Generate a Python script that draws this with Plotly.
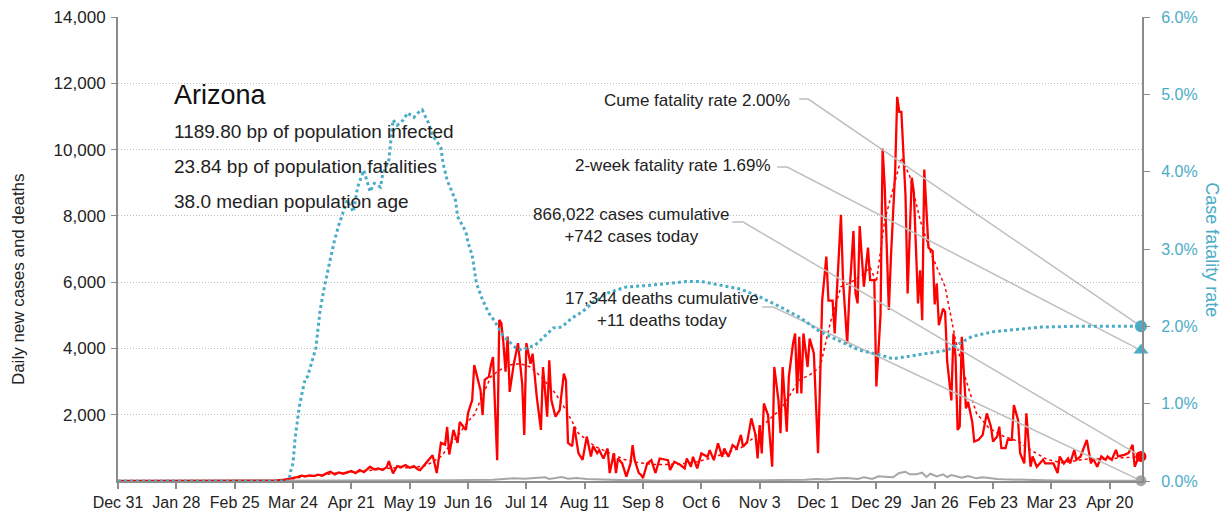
import pandas as pd
import plotly.graph_objects as go

BASE = pd.Timestamp("2019-12-31")

# Daily new cases: (day offset from 2019-12-31, value)
case_day = [0, 50, 75, 80, 84, 86, 88, 90, 92, 94, 96, 98, 100, 102, 104, 106, 108, 110, 112, 114, 116, 118, 120, 121, 123, 125, 127, 129, 130, 132, 134, 136, 138, 140, 142, 144, 145,
            148, 151, 153, 155, 157, 158, 159, 161, 163, 164, 167, 168, 170, 171, 174, 175, 176, 178, 179, 180,
            182, 183, 184, 185, 186, 187, 188, 190, 192, 193, 194, 195, 196, 198, 199, 201, 203, 204, 206, 207, 208, 210, 212, 214, 215, 216, 218, 219, 221, 223, 225, 227, 228, 230,
            231, 233, 235, 236, 238, 239, 240, 242, 244, 246, 247, 248, 250, 251, 252, 254, 256, 258, 260, 264, 265, 267, 270, 272, 273, 275, 276, 278, 280, 283, 284, 286, 288, 290, 291, 293, 295, 297, 299, 300, 302, 304, 306, 307, 308, 309, 310, 312, 314,
            315, 317, 318, 319, 321, 322, 324, 325, 326, 327, 328, 329, 331, 332, 334, 336, 337, 338, 340, 341, 343, 344, 345, 347, 348, 350, 351, 353, 354, 355, 356, 358, 360, 361, 363, 364, 366, 367, 368, 370, 371, 373, 374, 375, 376, 378, 379, 381, 382, 384, 385, 386, 387, 388, 389, 391, 392, 393, 394, 396, 397, 398, 400, 401, 402, 403, 404, 405, 407, 408, 410, 411, 413, 415, 417, 419, 420, 422, 423, 424, 426, 427, 429, 430, 432, 433, 435, 436, 438, 439, 441, 444, 445, 447, 449, 451, 452, 454, 456, 457, 459, 460, 462, 465, 467, 468, 470, 472, 474, 475, 477, 479, 480, 483, 485, 487, 488, 490, 491]
case_val = [0, 0, 10, 40, 80, 120, 160, 140, 170, 150, 190, 160, 230, 280, 200, 260, 220, 250, 300, 240, 330, 270, 360, 430, 350, 380, 330, 420, 600, 230, 450, 420, 480, 400, 450, 350, 330,
            540, 780, 240, 1150, 1100, 1630, 800, 1540, 1150, 1780, 1540, 2050, 2440, 3500, 2740, 1990, 3050, 3150, 3500, 3740,
            630, 4860, 4760, 4160, 3300, 4360, 2690, 3540, 4160, 3440, 2940, 1390, 4160, 3540, 3840, 2540, 1540, 3440, 1940, 3640, 2440, 1940, 2140, 3240, 3040, 1150, 1050, 1640, 840, 640, 1340, 740, 1050, 840,
            930, 680, 980, 240, 840, 240, 680, 530, 130, 530, 1080, 630, 240, 190, 90, 530, 630, 240, 680, 630, 330, 580, 480, 380, 680, 430, 730, 380, 830, 730, 930, 630, 1140, 730, 980, 730, 1080, 980, 1390, 1030, 1180, 1890, 1390, 680, 1690, 830, 2340, 1990, 430,
            3440, 2440, 1440, 3440, 1490, 3140, 4150, 4450, 2640, 4350, 2640, 4450, 3440, 4300, 3850, 840, 3040, 5460, 6770, 5440, 5440, 4450, 5660, 8030, 6060, 4150, 5560, 7540, 5660, 5360, 7690, 5860, 7040, 6060, 6060, 2850, 5000, 10030, 8900, 5160, 6770, 9300, 11590, 11140, 11140, 8600, 5660, 9150, 8700, 5360, 6360, 4850, 9400, 8130, 7040, 6940, 5330, 5960, 4700, 5200, 5100, 3600, 2430, 4450, 3750, 1540, 1640, 4350, 2190, 2390, 1790, 1190, 1240, 1390, 2040, 1640, 1190, 1340, 1640, 990, 990, 1240, 1240, 2290, 1840, 840, 530, 2040, 430, 740, 430, 640, 530, 530, 530, 240, 740, 530, 680, 530, 940, 640, 740, 1240, 530, 680, 430, 740, 640, 740, 640, 940, 740, 790, 840, 1090, 430, 740, 742]

# 7-day average of cases
avg_day = [0, 77, 84, 91, 98, 105, 112, 119, 126, 133, 140, 147, 150, 155, 159, 164, 168, 171, 174, 179, 183, 188, 193, 198, 203, 210, 215, 221, 229, 236, 243, 250, 257, 264, 271, 278, 285, 292, 299, 305, 310, 315, 318, 322, 327, 332, 337, 342, 347, 352, 357, 361, 364, 368, 372, 376, 380, 385, 390, 397, 402, 407, 412, 418, 425, 432, 439, 446, 453, 460, 467, 474, 481, 488, 491]
avg_val = [0, 0, 70, 150, 180, 240, 260, 300, 350, 400, 400, 450, 540, 740, 1050, 1440, 1800, 2000, 2440, 3150, 3340, 3500, 3540, 3440, 3150, 2640, 2140, 1440, 1040, 840, 650, 550, 500, 500, 520, 580, 700, 850, 1000, 1300, 1700, 2000, 2140, 2540, 3050, 3200, 3440, 4800, 5860, 6000, 6200, 6450, 6000, 7870, 8800, 9750, 9200, 7870, 6900, 5860, 4250, 3050, 2050, 1600, 1350, 1200, 900, 650, 550, 620, 680, 650, 700, 720, 750]

# Daily deaths
death_day = [0, 80, 90, 100, 110, 120, 130, 140, 150, 160, 170, 180, 185, 190, 195, 200, 205, 207, 210, 213, 216, 220, 225, 230, 235, 240, 245, 250, 255, 260, 270, 280, 290, 300, 310, 320, 330, 335, 340, 345, 350, 355, 358, 362, 365, 368, 372, 375, 378, 380, 383, 386, 388, 390, 393, 396, 398, 400, 402, 405, 408, 412, 415, 418, 422, 425, 430, 435, 440, 450, 460, 470, 480, 491]
death_val = [0, 0, 5, 15, 20, 20, 20, 15, 20, 25, 30, 40, 60, 80, 70, 90, 110, 60, 100, 120, 70, 90, 60, 50, 30, 40, 20, 30, 15, 10, 15, 10, 15, 20, 25, 30, 40, 60, 45, 80, 90, 60, 110, 60, 140, 130, 110, 240, 280, 200, 200, 250, 120, 220, 140, 200, 120, 180, 150, 100, 150, 80, 110, 80, 60, 50, 40, 30, 25, 15, 10, 10, 10, 11]

# Case fatality rate (%)
cfr_day = [0, 82, 83, 84, 85, 86, 87, 89, 90, 91, 93, 95, 97, 99, 102, 104, 106, 108, 110, 113, 115, 118, 121, 123, 126, 127, 130, 132, 134, 137, 139, 142, 144, 146, 149, 151, 155, 156, 158, 162, 163, 167, 168, 170, 172, 175, 178, 181, 184, 187, 191, 194, 197, 200, 204, 209, 213, 218, 223, 228, 235, 244, 255, 266, 273, 280, 289, 299, 308, 318, 327, 337, 347, 356, 366, 372, 379, 388, 398, 404, 410, 420, 430, 443, 459, 475, 491]
cfr_val = [0, 0, 0.14, 0.23, 0.55, 0.79, 0.96, 1.22, 1.33, 1.35, 1.52, 1.72, 2.21, 2.5, 2.88, 3.12, 3.31, 3.47, 3.63, 3.48, 3.80, 4.02, 3.74, 3.85, 3.80, 3.96, 4.15, 4.67, 4.60, 4.67, 4.76, 4.70, 4.76, 4.80, 4.63, 4.47, 4.31, 4.11, 3.89, 3.63, 3.42, 3.22, 3.08, 2.92, 2.56, 2.34, 2.17, 2.06, 1.91, 1.82, 1.72, 1.69, 1.73, 1.75, 1.85, 1.98, 1.99, 2.11, 2.19, 2.31, 2.43, 2.51, 2.53, 2.56, 2.58, 2.58, 2.53, 2.48, 2.38, 2.25, 2.12, 1.93, 1.80, 1.69, 1.63, 1.58, 1.61, 1.65, 1.69, 1.78, 1.87, 1.93, 1.96, 1.99, 2.00, 2.00, 2.00]

two_week_cfr = 1.69
cume_cfr = 2.00
state = "Arizona"
info_lines = ["1189.80 bp of population infected", "23.84 bp of population fatalities", "38.0 median population age"]
cases_text = ["866,022 cases cumulative", "+742 cases today"]
deaths_text = ["17,344 deaths cumulative", "+11 deaths today"]
left_title = "Daily new cases and deaths"
right_title = "Case fatality rate"

LEFT_MAX = 14000
RIGHT_MAX = 6.0
RED = "#FF0000"
BLUE = "#4BACC6"
GRAY = "#A6A6A6"
LEAD = "#BFBFBF"
AXIS = "#8C8C8C"
FONT = "Liberation Sans, Arial, sans-serif"


def dates(days):
    return BASE + pd.to_timedelta(days, unit="D")


last = dates([case_day[-1]])[0]
pct_to_left = LEFT_MAX / RIGHT_MAX

fig = go.Figure()

fig.add_trace(go.Scatter(x=dates(cfr_day), y=cfr_val, yaxis="y2", mode="lines",
                         line=dict(color=BLUE, width=3, dash="dot"), hoverinfo="skip"))
fig.add_trace(go.Scatter(x=dates(death_day), y=death_val, mode="lines",
                         line=dict(color=GRAY, width=2), hoverinfo="skip"))
fig.add_trace(go.Scatter(x=dates(avg_day), y=avg_val, mode="lines",
                         line=dict(color=RED, width=1.5, dash="dot"), hoverinfo="skip"))
fig.add_trace(go.Scatter(x=dates(case_day), y=case_val, mode="lines",
                         line=dict(color=RED, width=2.3), hoverinfo="skip"))

# Leader lines from labels to end markers (label anchor days, label y) -> end point
leaders = [
    ((327, 331.3, 11525), cume_cfr * pct_to_left),
    ((316.4, 321.2, 9474), two_week_cfr * pct_to_left),
    ((294.8, 300.1, 7814), case_val[-1]),
    ((309.2, 314.5, 5250), death_val[-1]),
]
for (d0, d1, yv), yend in leaders:
    fig.add_trace(go.Scatter(x=[dates([d0])[0], dates([d1])[0], last], y=[yv, yv, yend],
                             mode="lines", line=dict(color=LEAD, width=1.5), hoverinfo="skip"))

# End markers
fig.add_trace(go.Scatter(x=[last], y=[cume_cfr], yaxis="y2", mode="markers", cliponaxis=False,
                         marker=dict(color=BLUE, size=12, symbol="circle"), hoverinfo="skip"))
fig.add_trace(go.Scatter(x=[last], y=[two_week_cfr], yaxis="y2", mode="markers", cliponaxis=False,
                         marker=dict(color=BLUE, size=13, symbol="triangle-up"), hoverinfo="skip"))
fig.add_trace(go.Scatter(x=[last], y=[case_val[-1]], mode="markers", cliponaxis=False,
                         marker=dict(color=RED, size=11, symbol="circle"), hoverinfo="skip"))
fig.add_trace(go.Scatter(x=[last], y=[death_val[-1]], mode="markers", cliponaxis=False,
                         marker=dict(color=GRAY, size=11, symbol="circle"), hoverinfo="skip"))

ann = []
ann.append(dict(text=state, x=0.053, y=0.832, xref="paper", yref="paper", xanchor="left", yanchor="middle",
                showarrow=False, font=dict(size=27, color="#111")))
for i, t in enumerate(info_lines):
    ann.append(dict(text=t, x=0.053, y=0.753 - i * 0.0755, xref="paper", yref="paper", xanchor="left",
                    yanchor="middle", showarrow=False, font=dict(size=19, color="#222")))
ann.append(dict(text=f"Cume fatality rate {cume_cfr:.2f}%", x=0.658, y=0.820, xref="paper", yref="paper",
                xanchor="right", yanchor="middle", showarrow=False, font=dict(size=17, color="#222")))
ann.append(dict(text=f"2-week fatality rate {two_week_cfr:.2f}%", x=0.640, y=0.680, xref="paper", yref="paper",
                xanchor="right", yanchor="middle", showarrow=False, font=dict(size=17, color="#222")))
ann.append(dict(text="<br>".join(cases_text), x=0.501, y=0.551, xref="paper", yref="paper",
                xanchor="center", yanchor="middle", showarrow=False, align="center", font=dict(size=17, color="#222")))
ann.append(dict(text="<br>".join(deaths_text), x=0.531, y=0.370, xref="paper", yref="paper",
                xanchor="center", yanchor="middle", showarrow=False, align="center", font=dict(size=17, color="#222")))
# Axis titles
ann.append(dict(text=left_title, x=-0.0977, y=0.435, xref="paper", yref="paper", xanchor="center",
                yanchor="middle", textangle=-90, showarrow=False, font=dict(size=17, color="#222")))
ann.append(dict(text=right_title, x=1.068, y=0.498, xref="paper", yref="paper", xanchor="center",
                yanchor="middle", textangle=90, showarrow=False, font=dict(size=18, color=BLUE)))

fig.update_layout(
    width=1223, height=520,
    margin=dict(l=118, r=81, t=17, b=39, autoexpand=False),
    paper_bgcolor="white", plot_bgcolor="white",
    showlegend=False, hovermode=False,
    font=dict(family=FONT, size=17, color="#222"),
    annotations=ann,
    xaxis=dict(type="date", range=[BASE, last + pd.Timedelta(hours=12)], automargin=False,
               tick0=BASE, dtick=28 * 86400000, tickformat="%b %-d",
               showgrid=False, showline=True, linecolor=AXIS, linewidth=2,
               ticks="outside", ticklen=6, tickcolor=AXIS, tickwidth=1.5,
               tickfont=dict(size=16, color="#222"), zeroline=False),
    yaxis=dict(range=[0, LEFT_MAX], tickvals=list(range(2000, LEFT_MAX + 1, 2000)), tickformat=",",
               automargin=False,
               showgrid=True, gridcolor="#BDBDBD", griddash="1px,2px", gridwidth=1,
               showline=True, linecolor=AXIS, linewidth=2, ticks="outside", ticklen=5, tickcolor=AXIS,
               zeroline=False, tickfont=dict(size=17, color="#222"), ticklabelstandoff=2),
    yaxis2=dict(range=[0, RIGHT_MAX], overlaying="y", side="right", dtick=1, tickformat=".1f", ticksuffix="%",
                automargin=False,
                showgrid=False, showline=True, linecolor=AXIS, linewidth=2, ticks="outside", ticklen=6,
                tickcolor=AXIS, zeroline=False, tickfont=dict(size=16, color=BLUE), ticklabelstandoff=8),
)

fig.write_html("out.html", config={"displayModeBar": False},
               post_script="document.body.style.margin='0';document.body.style.overflow='hidden';")
